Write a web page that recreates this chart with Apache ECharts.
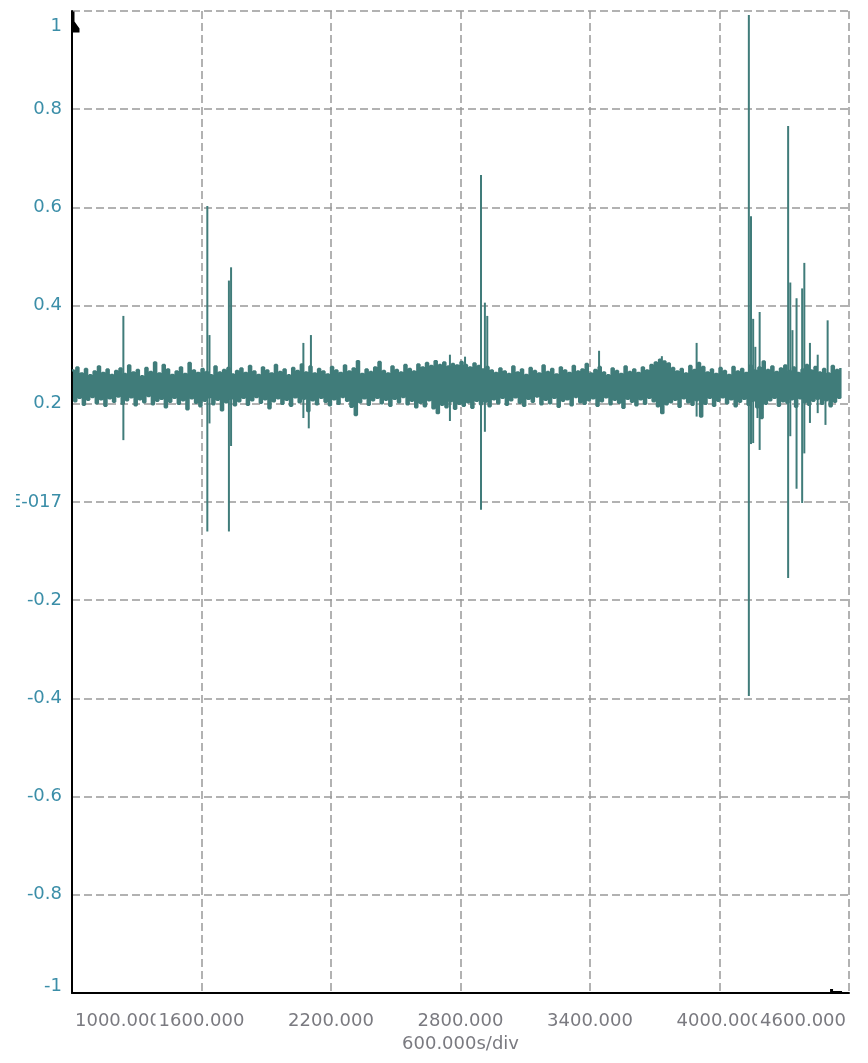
<!DOCTYPE html>
<html><head><meta charset="utf-8">
<script src="https://cdn.jsdelivr.net/npm/echarts@6/dist/echarts.min.js"></script>
<style>html,body{margin:0;padding:0;background:#fff}#c{width:868px;height:1063px}</style>
</head><body><div id="c"></div>
<script>
// axes
const xMin = 1000, xMax = 4600, xStep = 600;
const yMin = -1, yMax = 1, yStep = 0.2;
const xTickLabels = ['1000.000','1600.000','2200.000','2800.000','3400.000','4000.000','4600.000'];
const yTickLabels = ['-1','-0.8','-0.6','-0.4','-0.2','5.55111512312578E-017','0.2','0.4','0.6','0.8','1'];
const xName = '600.000s/div';

// sampled signal (uniform time base)
const sampleStart = 1000, sampleInterval = 10;
const noise = [
0.268,0.205,0.274,0.212,0.262,0.198,0.271,0.208,0.258,0.214,0.266,0.201,0.276,0.209,0.263,0.196,0.27,0.211,0.259,0.204,
0.267,0.215,0.272,0.2,0.261,0.207,0.278,0.213,0.264,0.197,0.269,0.209,0.256,0.203,0.273,0.216,0.265,0.199,0.284,0.206,
0.262,0.21,0.279,0.193,0.27,0.204,0.259,0.212,0.266,0.2,0.274,0.207,0.261,0.189,0.283,0.211,0.268,0.202,0.263,0.195,
0.271,0.206,0.265,0.213,0.258,0.199,0.276,0.208,0.264,0.187,0.269,0.203,0.273,0.21,0.26,0.197,0.267,0.205,0.272,0.212,
0.263,0.198,0.277,0.207,0.266,0.214,0.259,0.202,0.274,0.209,0.268,0.191,0.262,0.205,0.279,0.211,0.265,0.2,0.27,0.208,
0.258,0.196,0.273,0.213,0.267,0.203,0.28,0.21,0.264,0.185,0.276,0.207,0.262,0.199,0.271,0.212,0.266,0.204,0.26,0.197,
0.275,0.209,0.268,0.2,0.263,0.214,0.278,0.206,0.266,0.194,0.272,0.177,0.287,0.203,0.261,0.211,0.27,0.198,0.265,0.207,
0.274,0.212,0.285,0.201,0.267,0.208,0.262,0.196,0.276,0.21,0.269,0.203,0.264,0.214,0.279,0.199,0.271,0.206,0.266,0.193,
0.28,0.202,0.274,0.195,0.283,0.207,0.277,0.191,0.287,0.181,0.279,0.198,0.284,0.193,0.276,0.205,0.281,0.19,0.278,0.2,
0.285,0.196,0.279,0.203,0.274,0.192,0.282,0.206,0.277,0.199,0.27,0.204,0.275,0.195,0.268,0.209,0.263,0.201,0.272,0.212,
0.266,0.198,0.261,0.207,0.276,0.213,0.264,0.202,0.27,0.196,0.259,0.21,0.273,0.204,0.267,0.215,0.262,0.199,0.278,0.208,
0.265,0.201,0.271,0.212,0.26,0.194,0.274,0.206,0.268,0.209,0.263,0.197,0.277,0.214,0.266,0.203,0.27,0.2,0.281,0.207,
0.262,0.211,0.269,0.196,0.275,0.205,0.264,0.213,0.258,0.199,0.272,0.208,0.267,0.202,0.261,0.192,0.276,0.21,0.265,0.204,
0.27,0.197,0.263,0.209,0.274,0.2,0.268,0.212,0.279,0.205,0.284,0.195,0.29,0.181,0.286,0.199,0.282,0.203,0.273,0.208,
0.266,0.194,0.271,0.211,0.262,0.203,0.277,0.198,0.269,0.207,0.283,0.174,0.275,0.2,0.264,0.212,0.27,0.196,0.261,0.206,
0.273,0.213,0.267,0.201,0.259,0.209,0.275,0.195,0.266,0.204,0.271,0.21,0.263,0.198,0.278,0.206,0.268,0.193,0.274,0.171,
0.286,0.2,0.269,0.207,0.276,0.212,0.265,0.196,0.272,0.205,0.278,0.202,0.267,0.209,0.274,0.194,0.263,0.211,0.27,0.203,
0.279,0.198,0.268,0.206,0.275,0.21,0.264,0.2,0.271,0.207,0.262,0.195,0.277,0.204,0.269,0.212,0.273
];

// isolated spikes: time, highest and lowest value reached at that instant
const spikeX    = [1238, 1627, 1637, 1727, 1737, 2072, 2097, 2107, 2751, 2821, 2895, 2913, 2924, 3442, 3733, 3894,
  4136, 4146, 4156, 4166, 4176, 4186, 4318, 4328, 4338, 4357, 4383, 4393, 4419, 4455, 4491, 4501];
const spikeHigh = [0.379, 0.603, 0.34, 0.451, 0.478, 0.324, 0.23, 0.34, 0.30, 0.296, 0.666, 0.406, 0.379, 0.308, 0.297, 0.324,
  0.992, 0.582, 0.373, 0.316, 0.23, 0.387, 0.766, 0.447, 0.35, 0.415, 0.435, 0.487, 0.324, 0.30, 0.23, 0.37];
const spikeLow  = [0.126, -0.06, 0.16, -0.06, 0.114, 0.171, 0.15, 0.23, 0.165, 0.23, -0.016, 0.143, 0.23, 0.23, 0.23, 0.174,
  -0.395, 0.118, 0.12, 0.23, 0.171, 0.106, -0.155, 0.134, 0.23, 0.027, -0.002, 0.099, 0.161, 0.181, 0.157, 0.23];

// cursor markers
const cursorX = [1000, 4540];
const cursorY = [1, -1];

const noisePts = noise.map((v, i) => [sampleStart + i * sampleInterval, v]);
const spikePts = spikeX.map((x, i) => [x, spikeHigh[i], spikeLow[i]]);

const font = 'DejaVu Sans';
const xColor = '#7a7a80';
const yColor = '#3b8ea8';
const traceColor = '#407c7a';
const gridLine = {show: true, lineStyle: {color: '#999999', type: [8, 4], width: 1.5}};
// which label layer each x tick label is drawn on (later layer covers earlier)
const xLabelLayer = [0, 1, 0, 1, 0, 0, 1];

function xLabelFor(layer) {
  return {
    showMinLabel: true, showMaxLabel: true, hideOverlap: false,
    formatter: v => {
      const i = Math.round((v - xMin) / xStep);
      return xLabelLayer[i] === layer ? xTickLabels[i] : '';
    },
    color: xColor, fontFamily: font, fontSize: 18, margin: 19,
    alignMinLabel: 'left', alignMaxLabel: 'right',
    backgroundColor: '#fff', padding: [0, 3]
  };
}

const chart = echarts.init(document.getElementById('c'), null, {renderer: 'canvas'});
chart.setOption({
  animation: false,
  backgroundColor: '#fff',
  grid: {left: 72, right: 19, top: 11, bottom: 70, containLabel: false, outerBoundsMode: 'none'},
  xAxis: [{
    type: 'value', min: xMin, max: xMax, interval: xStep, position: 'bottom', z: 0,
    axisLine: {show: true, onZero: false, lineStyle: {color: '#000', width: 2}},
    axisTick: {show: false},
    splitLine: gridLine,
    axisLabel: xLabelFor(0),
    name: xName, nameLocation: 'middle', nameGap: 31,
    nameTextStyle: {color: xColor, fontFamily: font, fontSize: 18}
  }, {
    type: 'value', min: xMin, max: xMax, interval: xStep, position: 'bottom', offset: 0, z: 1,
    axisLine: {show: false, onZero: false},
    axisTick: {show: false},
    splitLine: {show: false},
    axisLabel: xLabelFor(1)
  }],
  yAxis: {
    type: 'value', min: yMin, max: yMax, interval: yStep,
    axisLine: {show: true, onZero: false, lineStyle: {color: '#000', width: 2}},
    axisTick: {show: false},
    splitLine: gridLine,
    axisLabel: {
      showMinLabel: true, showMaxLabel: true, hideOverlap: false,
      formatter: v => {
        const i = Math.round((v - yMin) / yStep);
        const s = yTickLabels[i];
        if (i === yTickLabels.length - 1) return '{mx|' + s + '}';
        if (i === 0) return '{mn|' + s + '}';
        return s;
      },
      color: yColor, fontFamily: font, fontSize: 18, margin: 10,
      rich: {
        mx: {color: yColor, fontFamily: font, fontSize: 18, padding: [30, 0, 0, 0]},
        mn: {color: yColor, fontFamily: font, fontSize: 18, padding: [0, 0, 14, 0]}
      }
    }
  },
  graphic: [{type: 'rect', z: 100, shape: {x: 0, y: 488, width: 16, height: 32}, style: {fill: '#fff'}}],
  series: [{
    type: 'line', data: noisePts, step: 'end', showSymbol: false, silent: true,
    xAxisIndex: 0, yAxisIndex: 0, sampling: 'none',
    lineStyle: {color: traceColor, width: 2.4},
    markPoint: {
      silent: true, label: {show: false}, animation: false,
      data: [
        {coord: [cursorX[0], cursorY[0]], symbol: 'path://M0,0 L2,0 L2,10 L7,17 L7,21 L0,21 Z',
          symbolSize: [7, 21], symbolOffset: [4, 11], itemStyle: {color: '#000'}},
        {coord: [cursorX[1], cursorY[1]], symbol: 'path://M0,0 L3,0 L3,2 L12,2 L12,4 L0,4 Z',
          symbolSize: [12, 4], symbolOffset: [0, -2], itemStyle: {color: '#000'}}
      ]
    }
  }, {
    type: 'custom', data: spikePts, silent: true, xAxisIndex: 0, yAxisIndex: 0, clip: true,
    encode: {x: 0, y: [1, 2]},
    renderItem: (params, api) => {
      const p1 = api.coord([api.value(0), api.value(1)]);
      const p2 = api.coord([api.value(0), api.value(2)]);
      return {type: 'line', shape: {x1: p1[0], y1: p1[1], x2: p2[0], y2: p2[1]},
        style: {stroke: traceColor, lineWidth: 2, lineCap: 'butt'}};
    }
  }]
});
</script></body></html>
